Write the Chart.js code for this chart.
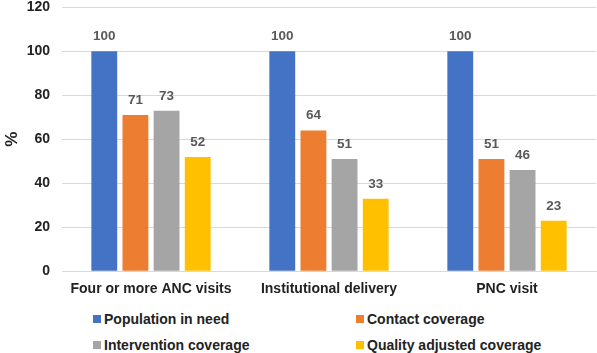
<!DOCTYPE html>
<html>
<head>
<meta charset="utf-8">
<script src="https://cdn.jsdelivr.net/npm/chart.js@4/dist/chart.umd.min.js"></script>
<style>
  html, body { margin: 0; padding: 0; background: #fff; }
  #wrap { position: relative; width: 597px; height: 353px; overflow: hidden; }
  #chart-box { position: absolute; left: 0; top: -13px; width: 597px; height: 313px; }
  #legend { position: absolute; left: 93px; top: 309px; display: grid; grid-template-columns: 263px 240px; row-gap: 6px;
    font: bold 14px "Liberation Sans", Arial, sans-serif; color: #222; }
  #legend .item { display: flex; align-items: center; height: 20px; white-space: nowrap; }
  #legend .sw { width: 8px; height: 8px; margin-right: 3px; }
</style>
</head>
<body>
<div id="wrap">
  <div id="chart-box"><canvas id="c"></canvas></div>
  <div id="legend"></div>
</div>
<script>
const categories = ['Four or more ANC visits', 'Institutional delivery', 'PNC visit'];
const seriesNames = ['Population in need', 'Contact coverage', 'Intervention coverage', 'Quality adjusted coverage'];
const populationInNeed = [100, 100, 100];
const contactCoverage = [71, 64, 51];
const interventionCoverage = [73, 51, 46];
const qualityAdjusted = [52, 33, 23];
const yTicks = [0, 20, 40, 60, 80, 100, 120];
const colors = ['#4472C4', '#ED7D31', '#A5A5A5', '#FFC000'];

const allValues = [populationInNeed, contactCoverage, interventionCoverage, qualityAdjusted];
const FONT = '"Liberation Sans", Arial, sans-serif';

// draws the number above each bar
const valueLabels = {
    id: 'valueLabels',
    afterDatasetsDraw(chart) {
        const ctx = chart.ctx;
        ctx.save();
        ctx.font = 'bold 13.5px ' + FONT;
        ctx.fillStyle = '#595959';
        ctx.textAlign = 'center';
        ctx.textBaseline = 'bottom';
        chart.data.datasets.forEach((ds, i) => {
            chart.getDatasetMeta(i).data.forEach((bar, j) => {
                ctx.fillText(String(ds.data[j]), bar.x, bar.y - 8);
            });
        });
        ctx.restore();
    }
};

new Chart(document.getElementById('c'), {
    type: 'bar',
    data: {
        labels: categories,
        datasets: seriesNames.map((name, i) => ({
            label: name,
            data: allValues[i],
            backgroundColor: colors[i],
            categoryPercentage: 0.7,
            barPercentage: 0.83,
        })),
    },
    options: {
        responsive: true,
        maintainAspectRatio: false,
        animation: false,
        layout: { padding: { top: 0, right: 1, left: 2, bottom: 0 } },
        plugins: { legend: { display: false }, tooltip: { enabled: false } },
        scales: {
            x: {
                grid: { display: false },
                border: { color: '#d9d9d9' },
                ticks: { color: '#222', font: { family: FONT, size: 14, weight: 'bold' }, padding: 2, maxRotation: 0, minRotation: 0, autoSkip: false },
            },
            y: {
                min: 0, max: 120,
                afterBuildTicks: (axis) => { axis.ticks = yTicks.map((v) => ({ value: v })); },
                afterFit: (axis) => { axis.width = 60; },
                grid: { color: '#d9d9d9', drawTicks: false },
                border: { display: false },
                ticks: { color: '#222', font: { family: FONT, size: 14, weight: 'bold' }, padding: 12 },
                title: { display: true, text: '%', color: '#222', font: { family: FONT, size: 17, weight: 'bold' }, padding: { top: 0, bottom: 0 } },
            },
        },
    },
    plugins: [valueLabels],
});

const legend = document.getElementById('legend');
seriesNames.forEach((name, i) => {
    const el = document.createElement('div');
    el.className = 'item';
    el.innerHTML = `<span class="sw" style="background:${colors[i]}"></span><span>${name}</span>`;
    legend.appendChild(el);
});
</script>
</body>
</html>
